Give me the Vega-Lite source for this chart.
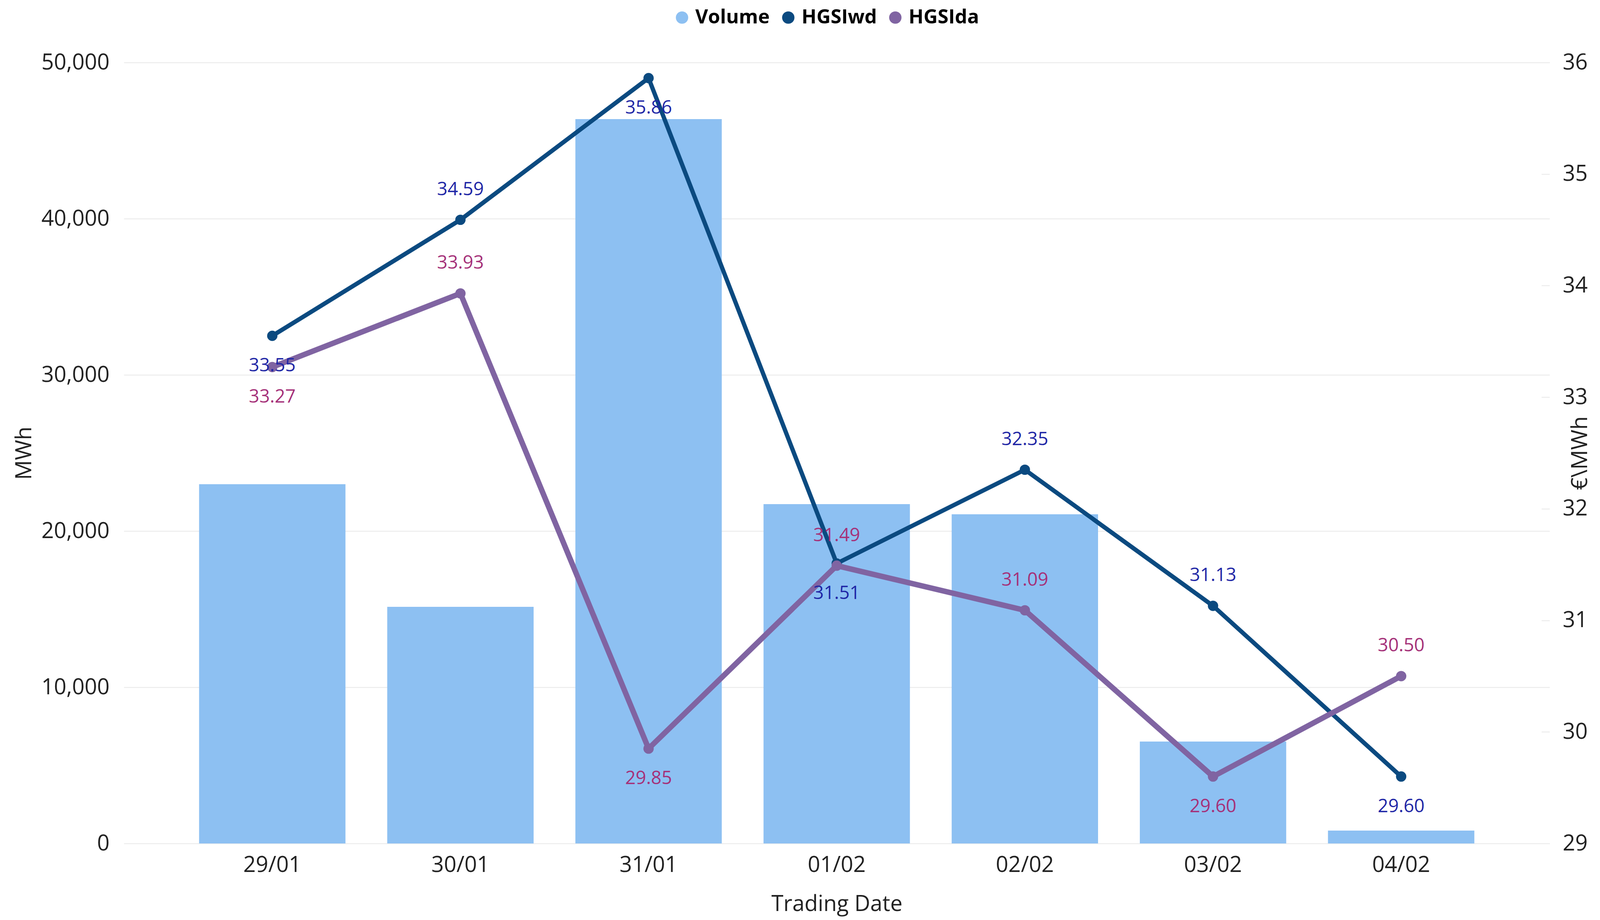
{
  "$schema": "https://vega.github.io/schema/vega-lite/v6.json",
  "width": 3650,
  "height": 2000,
  "autosize": {"type": "none"},
  "padding": {"left": 317, "top": 160, "right": 203, "bottom": 190},
  "background": "#ffffff",
  "config": {
    "font": "Open Sans",
    "view": {"stroke": null},
    "axis": {
      "labelFontSize": 56,
      "titleFontSize": 56,
      "titleFontWeight": "normal",
      "labelColor": "#222222",
      "titleColor": "#222222",
      "labelFont": "Open Sans",
      "titleFont": "Open Sans",
      "labelLimit": 0
    },
    "legend": {
      "labelFont": "Open Sans"
    }
  },
  "data": {
    "values": [
      {"date": "29/01", "Volume": 23000, "HGSIwd": 33.55, "HGSIda": 33.27},
      {"date": "30/01", "Volume": 15150, "HGSIwd": 34.59, "HGSIda": 33.93},
      {"date": "31/01", "Volume": 46375, "HGSIwd": 35.86, "HGSIda": 29.85},
      {"date": "01/02", "Volume": 21725, "HGSIwd": 31.51, "HGSIda": 31.49},
      {"date": "02/02", "Volume": 21075, "HGSIwd": 32.35, "HGSIda": 31.09},
      {"date": "03/02", "Volume": 6525, "HGSIwd": 31.13, "HGSIda": 29.60},
      {"date": "04/02", "Volume": 825, "HGSIwd": 29.60, "HGSIda": 30.50}
    ]
  },
  "encoding": {
    "x": {
      "field": "date",
      "type": "nominal",
      "sort": null,
      "scale": {"paddingInner": 0.222, "paddingOuter": 0.4},
      "axis": {
        "labelAngle": 0,
        "domain": false,
        "ticks": false,
        "grid": false,
        "labelPadding": 28,
        "title": "Trading Date",
        "titlePadding": 45
      }
    }
  },
  "layer": [
    {
      "mark": {"type": "bar"},
      "encoding": {
        "y": {
          "field": "Volume",
          "type": "quantitative",
          "scale": {"domain": [0, 50000], "nice": false},
          "axis": {
            "values": [0, 10000, 20000, 30000, 40000, 50000],
            "format": ",.0f",
            "grid": true,
            "gridColor": "#EFEFEF",
            "gridWidth": 3,
            "domain": false,
            "ticks": false,
            "labelPadding": 37,
            "title": "MWh",
            "titlePadding": 26
          }
        },
        "color": {
          "datum": "Volume",
          "type": "nominal",
          "title": null,
          "scale": {
            "domain": ["Volume", "HGSIwd", "HGSIda"],
            "range": ["#8DC0F2", "#0B4A80", "#8064A2"]
          },
          "legend": {
            "orient": "none",
            "legendX": 1404,
            "legendY": -140,
            "direction": "horizontal",
            "title": null,
            "symbolType": "circle",
            "symbolSize": 1000,
            "symbolStrokeWidth": 0,
            "symbolOpacity": 1,
            "labelFontSize": 50,
            "labelFontWeight": "bold",
            "labelColor": "#000000",
            "labelLimit": 0,
            "columnPadding": 22,
            "labelOffset": 9
          }
        }
      }
    },
    {
      "transform": [{"fold": ["HGSIwd", "HGSIda"], "as": ["series", "price"]}],
      "encoding": {
        "y": {
          "field": "price",
          "type": "quantitative",
          "scale": {"domain": [29, 36], "nice": false, "zero": false},
          "axis": {
            "orient": "right",
            "values": [29, 30, 31, 32, 33, 34, 35, 36],
            "grid": false,
            "domain": false,
            "ticks": true,
            "tickSize": -21,
            "tickColor": "#EFEFEF",
            "tickWidth": 3,
            "labelPadding": 54,
            "title": "€\\MWh",
            "titleAngle": 270,
            "titlePadding": 10
          }
        }
      },
      "layer": [
        {
          "mark": {"type": "line", "point": {"filled": true, "size": 700}},
          "encoding": {
            "color": {"field": "series", "type": "nominal", "title": null},
            "strokeWidth": {
              "condition": {"test": "datum.series === 'HGSIda'", "value": 14},
              "value": 11
            }
          }
        },
        {
          "transform": [{"filter": "datum.series === 'HGSIwd' && indexof(['30/01','02/02','03/02'], datum.date) >= 0"}],
          "mark": {"type": "text", "dy": -77, "fontSize": 47, "color": "#1F27A6", "baseline": "middle"},
          "encoding": {"text": {"field": "price", "type": "quantitative", "format": ".2f"}}
        },
        {
          "transform": [{"filter": "datum.series === 'HGSIwd' && indexof(['30/01','02/02','03/02'], datum.date) < 0"}],
          "mark": {"type": "text", "dy": 77, "fontSize": 47, "color": "#1F27A6", "baseline": "middle"},
          "encoding": {"text": {"field": "price", "type": "quantitative", "format": ".2f"}}
        },
        {
          "transform": [{"filter": "datum.series === 'HGSIda' && indexof(['30/01','01/02','02/02','04/02'], datum.date) >= 0"}],
          "mark": {"type": "text", "dy": -77, "fontSize": 47, "color": "#A53179", "baseline": "middle"},
          "encoding": {"text": {"field": "price", "type": "quantitative", "format": ".2f"}}
        },
        {
          "transform": [{"filter": "datum.series === 'HGSIda' && indexof(['30/01','01/02','02/02','04/02'], datum.date) < 0"}],
          "mark": {"type": "text", "dy": 77, "fontSize": 47, "color": "#A53179", "baseline": "middle"},
          "encoding": {"text": {"field": "price", "type": "quantitative", "format": ".2f"}}
        }
      ]
    }
  ],
  "resolve": {"scale": {"y": "independent"}}
}
